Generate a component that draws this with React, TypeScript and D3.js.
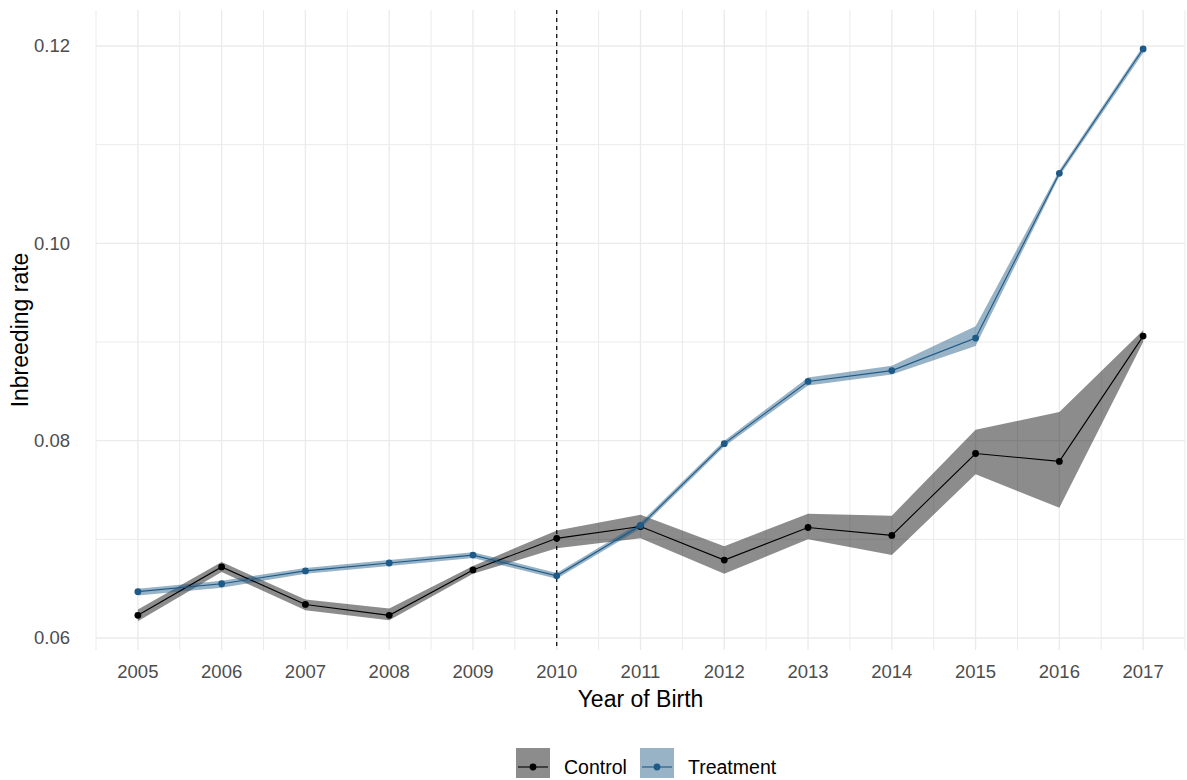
import React from "react";
import * as d3 from "d3";

const years = [2005, 2006, 2007, 2008, 2009, 2010, 2011, 2012, 2013, 2014, 2015, 2016, 2017];

const controlMean = [0.0623, 0.0672, 0.0634, 0.0623, 0.0669, 0.0701, 0.0713, 0.0679, 0.0712, 0.0704, 0.0787, 0.0779, 0.0906];
const controlLow = [0.0617, 0.0667, 0.0628, 0.0618, 0.0665, 0.0691, 0.0701, 0.0665, 0.07, 0.0684, 0.0766, 0.0732, 0.09];
const controlHigh = [0.0629, 0.0677, 0.0639, 0.063, 0.0673, 0.0709, 0.0725, 0.0693, 0.0726, 0.0724, 0.0811, 0.0829, 0.0912];

const treatMean = [0.0647, 0.0655, 0.0668, 0.0676, 0.0684, 0.0663, 0.0714, 0.0797, 0.086, 0.0871, 0.0904, 0.1071, 0.1197];
const treatLow = [0.0643, 0.0651, 0.0665, 0.0673, 0.0681, 0.066, 0.0711, 0.0794, 0.0856, 0.0867, 0.0896, 0.1068, 0.1193];
const treatHigh = [0.065, 0.0658, 0.0671, 0.0679, 0.0687, 0.0666, 0.0717, 0.08, 0.0864, 0.0876, 0.0916, 0.1074, 0.12];

const yTicks = [0.06, 0.08, 0.1, 0.12];
const yMinor = [0.07, 0.09, 0.11];
const cutoffYear = 2010;

const width = 1187;
const height = 780;
const panel = { left: 96, right: 1185, top: 10, bottom: 650 };

const x = d3.scaleLinear().domain([2004.5, 2017.5]).range([panel.left, panel.right]);
const y = d3.scaleLinear().domain([0.06, 0.12]).range([638, 46]);

const font = "'Liberation Sans', Arial, sans-serif";
const tickSize = 18.5;
const titleSize = 23;
const legendSize = 19.5;

const series = [
  { name: "Control", mean: controlMean, low: controlLow, high: controlHigh, color: "#000000", fill: "#000000" },
  { name: "Treatment", mean: treatMean, low: treatLow, high: treatHigh, color: "#1d5a87", fill: "#1b5481" },
];

export default function App() {
  const area = d3
    .area<number>()
    .x((_, i) => x(years[i]))
    .y0((d) => y(d));
  const line = d3
    .line<number>()
    .x((_, i) => x(years[i]))
    .y((d) => y(d));

  const minorX = d3.range(2004.5, 2018, 1);

  return (
    <svg width={width} height={height} style={{ display: "block", position: "absolute", left: 0, top: 0 }}>
      <rect width={width} height={height} fill="#fff" />
      {/* grid */}
      {yMinor.map((t) => (
        <line key={"ym" + t} x1={panel.left} x2={panel.right} y1={y(t)} y2={y(t)} stroke="#ebebeb" strokeWidth={1} />
      ))}
      {minorX.map((t) => (
        <line key={"xm" + t} x1={x(t)} x2={x(t)} y1={panel.top} y2={panel.bottom} stroke="#ebebeb" strokeWidth={1} />
      ))}
      {yTicks.map((t) => (
        <line key={"y" + t} x1={panel.left} x2={panel.right} y1={y(t)} y2={y(t)} stroke="#ebebeb" strokeWidth={1.4} />
      ))}
      {years.map((t) => (
        <line key={"x" + t} x1={x(t)} x2={x(t)} y1={panel.top} y2={panel.bottom} stroke="#ebebeb" strokeWidth={1.4} />
      ))}

      {/* ribbons */}
      {series.map((s) => (
        <path
          key={"band" + s.name}
          d={area.y1((_, i) => y(s.high[i]))(s.low) || ""}
          fill={s.fill}
          fillOpacity={0.45}
        />
      ))}

      {/* cutoff */}
      <line
        x1={x(cutoffYear)}
        x2={x(cutoffYear)}
        y1={panel.top}
        y2={panel.bottom}
        stroke="#000"
        strokeWidth={1.2}
        strokeDasharray="4 4"
      />

      {/* lines and points */}
      {series.map((s) => (
        <g key={"line" + s.name}>
          <path d={line(s.mean) || ""} fill="none" stroke={s.color} strokeWidth={1.1} />
          {s.mean.map((v, i) => (
            <circle key={i} cx={x(years[i])} cy={y(v)} r={3.4} fill={s.color} />
          ))}
        </g>
      ))}

      {/* y axis */}
      {yTicks.map((t) => (
        <text
          key={"yl" + t}
          x={70}
          y={y(t)}
          dy="0.35em"
          textAnchor="end"
          fontFamily={font}
          fontSize={tickSize}
          fill="#4d4d4d"
        >
          {d3.format(".2f")(t)}
        </text>
      ))}
      <text
        transform={`translate(20, ${(panel.top + panel.bottom) / 2}) rotate(-90)`}
        dy="0.35em"
        textAnchor="middle"
        fontFamily={font}
        fontSize={titleSize}
        fill="#000"
      >
        Inbreeding rate
      </text>

      {/* x axis */}
      {years.map((t) => (
        <text
          key={"xl" + t}
          x={x(t)}
          y={672}
          dy="0.35em"
          textAnchor="middle"
          fontFamily={font}
          fontSize={tickSize}
          fill="#4d4d4d"
        >
          {t}
        </text>
      ))}
      <text x={(panel.left + panel.right) / 2} y={699} dy="0.35em" textAnchor="middle" fontFamily={font} fontSize={titleSize} fill="#000">
        Year of Birth
      </text>

      {/* legend */}
      {series.map((s, i) => {
        const kx = i === 0 ? 516 : 640;
        const ky = 748;
        return (
          <g key={"leg" + s.name}>
            <rect x={kx} y={ky} width={34} height={30} fill={s.fill} fillOpacity={0.45} />
            <line x1={kx + 2} x2={kx + 32} y1={ky + 19} y2={ky + 19} stroke={s.color} strokeWidth={1.1} />
            <circle cx={kx + 17} cy={ky + 19} r={3.4} fill={s.color} />
            <text x={kx + 48} y={ky + 19} dy="0.35em" fontFamily={font} fontSize={legendSize} fill="#000">
              {s.name}
            </text>
          </g>
        );
      })}
    </svg>
  );
}
